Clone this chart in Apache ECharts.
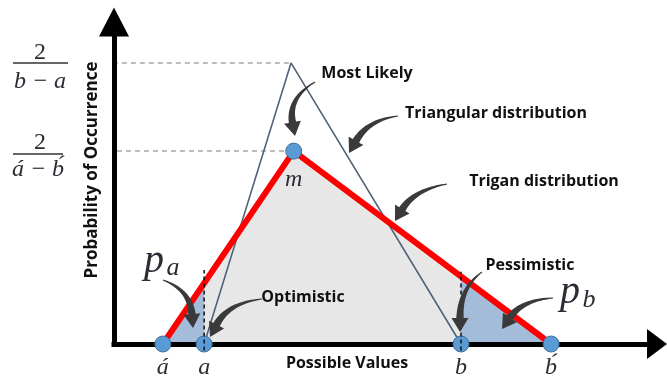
<!DOCTYPE html>
<html>
<head>
<meta charset="utf-8">
<script src="https://cdn.jsdelivr.net/npm/echarts@6/dist/echarts.min.js"></script>
<style>
  html, body { margin: 0; padding: 0; background: #fff; }
  #chart { width: 667px; height: 379px; }
</style>
</head>
<body>
<div id="chart"></div>
<script>
// key points on the value axis (arbitrary units)
const pointNames = ['á', 'a', 'm', 'b', 'b́'];
const pointX = [9.0, 16.6, 33.1, 63.9, 80.5];
const pointY = [0, 0, 59.9, 0, 0];

// trigan distribution (red)
const triganX = [9.0, 33.1, 80.5];
const triganY = [0, 59.9, 0];

// triangular distribution (outline)
const triangleX = [16.6, 32.6, 63.9];
const triangleY = [0, 87.3, 0];

// tail areas p_a and p_b
const tailLeftX = [9.0, 16.6];
const tailLeftY = [0, 18.9];
const tailRightX = [63.9, 80.5];
const tailRightY = [21.2, 0];

// dashed guides at a and b
const guideX = [16.6, 63.9];
const guideTop = [23.0, 22.4];

// dashed levels 2/(b-a) and 2/(á-b́)
const levelY = [87.3, 59.9];
const levelStart = [-8.5, -9.4];
const levelEnd = [32.6, 33.1];

const zip = (xs, ys) => xs.map((x, i) => [x, ys[i]]);

const chart = echarts.init(document.getElementById('chart'));

const SANS = '"Open Sans", Lato, sans-serif';
const MATH = '"Liberation Serif", "DejaVu Serif", serif';
const MATH_COLOR = '#2f2a33';

/* tapered curved arrow, tail -> tip, quadratic bezier through control */
function curvedArrow(x0, y0, cx, cy, x1, y1) {
	let dx = x1 - cx, dy = y1 - cy;
	let len = Math.sqrt(dx * dx + dy * dy);
	dx /= len; dy /= len;
	const headLen = 14, headHalf = 8.5;
	const hx = x1 - dx * headLen, hy = y1 - dy * headLen;
	const left = [], right = [];
	const n = 24;
	for (let i = 0; i <= n; i++) {
		const t = i / n;
		const px = (1 - t) * (1 - t) * x0 + 2 * (1 - t) * t * cx + t * t * hx;
		const py = (1 - t) * (1 - t) * y0 + 2 * (1 - t) * t * cy + t * t * hy;
		let tx = 2 * (1 - t) * (cx - x0) + 2 * t * (hx - cx);
		let ty = 2 * (1 - t) * (cy - y0) + 2 * t * (hy - cy);
		const tl = Math.sqrt(tx * tx + ty * ty) || 1;
		tx /= tl; ty /= tl;
		const w = 0.5 + 3.2 * t;
		left.push([px - ty * w, py + tx * w]);
		right.unshift([px + ty * w, py - tx * w]);
	}
	const pts = left.concat([
		[hx - dy * headHalf, hy + dx * headHalf],
		[x1, y1],
		[hx + dy * headHalf, hy - dx * headHalf]
	]).concat(right);
	return {
		type: 'polygon',
		z: 50,
		shape: { points: pts },
		style: { fill: '#3a3a3a' }
	};
}

function label(str, x, y, font, color, rotation) {
	return {
		type: 'text',
		x: x,
		y: y,
		z: 40,
		rotation: rotation || 0,
		style: {
			text: str,
			font: font,
			fill: color || '#111',
			align: 'center',
			verticalAlign: 'middle'
		}
	};
}

const graphics = [
	// fractions on the left
	label('2', 40, 53, '24px ' + MATH, MATH_COLOR),
	{ type: 'line', z: 40, shape: { x1: 13, y1: 63, x2: 68, y2: 63 }, style: { stroke: '#333', lineWidth: 1.5 } },
	label('b − a', 40, 82, 'italic 24px ' + MATH, MATH_COLOR),
	label('2', 40, 143, '24px ' + MATH, MATH_COLOR),
	{ type: 'line', z: 40, shape: { x1: 13, y1: 154, x2: 63, y2: 154 }, style: { stroke: '#333', lineWidth: 1.5 } },
	label('á − b́', 38, 170, 'italic 24px ' + MATH, MATH_COLOR),

	// axis titles
	label('Probability of Occurrence', 92, 170, 'bold 17px ' + SANS, '#111', Math.PI / 2),
	label('Possible Values', 347, 363, 'bold 16px ' + SANS),

	// annotations
	label('Most Likely', 367, 73, 'bold 16px ' + SANS),
	label('Triangular distribution', 496, 113, 'bold 16px ' + SANS),
	label('Trigan distribution', 544, 181, 'bold 16px ' + SANS),
	label('Pessimistic', 530, 265, 'bold 16px ' + SANS),
	label('Optimistic', 303, 297, 'bold 16px ' + SANS),

	// p_a and p_b
	label('p', 154, 261, 'italic 40px ' + MATH, MATH_COLOR),
	label('a', 173, 268, 'italic 26px ' + MATH, MATH_COLOR),
	label('p', 570, 292, 'italic 40px ' + MATH, MATH_COLOR),
	label('b', 589, 300, 'italic 26px ' + MATH, MATH_COLOR),

	// curved arrows
	curvedArrow(315, 82, 288, 98, 295, 136),
	curvedArrow(398, 116, 368, 120, 349, 153),
	curvedArrow(447, 184, 414, 190, 395, 221),
	curvedArrow(482, 272, 460, 288, 460, 332),
	curvedArrow(262, 299, 228, 303, 210, 337),
	curvedArrow(163, 280, 190, 290, 193, 328),
	curvedArrow(553, 298, 522, 300, 502, 329)
];

const guideSeries = guideX.map((x, i) => ({
	type: 'line',
	z: 12,
	clip: false,
	symbol: 'none',
	silent: true,
	data: [[x, -2], [x, guideTop[i]]],
	lineStyle: { color: '#111', width: 1.5, type: [4, 3] }
}));

const levelSeries = levelY.map((y, i) => ({
	type: 'line',
	z: 1,
	clip: false,
	symbol: 'none',
	silent: true,
	data: [[levelStart[i], y], [levelEnd[i], y]],
	lineStyle: { color: '#a6a6a6', width: 1.5, type: [5, 4] }
}));

const option = {
	animation: false,
	backgroundColor: '#fff',
	grid: { left: 114, right: 10, top: 22, bottom: 35, containLabel: false },
	xAxis: {
		type: 'value',
		min: 0,
		max: 100,
		z: 3,
		axisLine: {
			show: true,
			symbol: ['none', 'triangle'],
			symbolSize: [30, 20],
			lineStyle: { color: '#000', width: 5, cap: 'square' }
		},
		axisTick: { show: false },
		axisLabel: { show: false },
		splitLine: { show: false }
	},
	yAxis: {
		type: 'value',
		min: 0,
		max: 100,
		z: 3,
		axisLine: {
			show: true,
			symbol: ['none', 'triangle'],
			symbolSize: [30, 29],
			lineStyle: { color: '#000', width: 5, cap: 'square' }
		},
		axisTick: { show: false },
		axisLabel: { show: false },
		splitLine: { show: false }
	},
	series: [
		{
			type: 'line',
			z: 1,
			symbol: 'none',
			silent: true,
			data: zip(triganX, triganY),
			lineStyle: { width: 0 },
			areaStyle: { color: '#e7e7e7', opacity: 1 }
		},
		{
			type: 'line',
			z: 2,
			symbol: 'none',
			silent: true,
			data: zip(tailLeftX, tailLeftY),
			lineStyle: { width: 0 },
			areaStyle: { color: '#a3bcd9', opacity: 1 }
		},
		{
			type: 'line',
			z: 2,
			symbol: 'none',
			silent: true,
			data: zip(tailRightX, tailRightY),
			lineStyle: { width: 0 },
			areaStyle: { color: '#a3bcd9', opacity: 1 }
		},
		...levelSeries,
		{
			type: 'line',
			z: 4,
			symbol: 'none',
			silent: true,
			data: zip(triangleX, triangleY),
			lineStyle: { color: '#51637a', width: 1.6 }
		},
		{
			type: 'line',
			z: 5,
			symbol: 'none',
			silent: true,
			data: zip(triganX, triganY),
			lineStyle: { color: '#ff0000', width: 6 }
		},
		{
			type: 'scatter',
			z: 10,
			symbolSize: 16,
			data: pointX.map((x, i) => ({
				name: pointNames[i],
				value: [x, pointY[i]],
				label: { distance: pointNames[i] === 'm' ? 8 : 3 }
			})),
			itemStyle: { color: '#5b9bd5', borderColor: '#41719c', borderWidth: 1, opacity: 1 },
			label: {
				show: true,
				position: 'bottom',
				formatter: '{b}',
				fontFamily: MATH,
				fontStyle: 'italic',
				fontSize: 24,
				color: MATH_COLOR
			}
		},
		...guideSeries
	],
	graphic: graphics
};

chart.setOption(option);
</script>
</body>
</html>
